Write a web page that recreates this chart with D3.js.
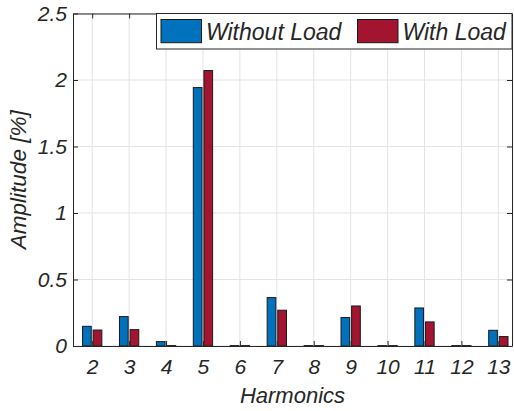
<!DOCTYPE html>
<html>
<head>
<meta charset="utf-8">
<script src="https://cdn.jsdelivr.net/npm/d3@7"></script>
<style>
  body { margin: 0; background: #fff; }
  text { font-family: "Liberation Sans", Arial, sans-serif; font-style: italic; fill: #262626; }
</style>
</head>
<body>
<div id="chart"></div>
<script>
// harmonic orders and amplitudes in %
const harmonics = [2, 3, 4, 5, 6, 7, 8, 9, 10, 11, 12, 13];
const withoutLoad = [0.148, 0.221, 0.033, 1.943, 0.003, 0.364, 0.003, 0.214, 0.003, 0.286, 0.003, 0.118];
const withLoad = [0.12, 0.123, 0.003, 2.071, 0.003, 0.269, 0.003, 0.301, 0.003, 0.181, 0.003, 0.071];
const seriesNames = ["Without Load", "With Load"];
const yTicks = [0, 0.5, 1, 1.5, 2, 2.5];

const width = 514, height = 411;
const margin = {top: 13.5, right: 2, bottom: 65, left: 73};
const colors = ["#0072BD", "#A2142F"];

const svg = d3.select("#chart").append("svg")
  .attr("width", width)
  .attr("height", height);

const x = d3.scaleLinear()
  .domain([1.48, 13.37])
  .range([margin.left, width - margin.right]);

const y = d3.scaleLinear()
  .domain([0, 2.5])
  .range([height - margin.bottom, margin.top]);

const plotW = width - margin.right - margin.left;
const plotH = height - margin.bottom - margin.top;

// grid lines
const grid = svg.append("g");
grid.selectAll("line.vx")
  .data(harmonics)
  .enter()
  .append("line")
  .attr("x1", d => x(d)).attr("x2", d => x(d))
  .attr("y1", margin.top).attr("y2", height - margin.bottom)
  .attr("stroke", "#e3e3e3").attr("stroke-width", 1);
grid.selectAll("line.hy")
  .data(yTicks)
  .enter()
  .append("line")
  .attr("x1", margin.left).attr("x2", width - margin.right)
  .attr("y1", d => y(d)).attr("y2", d => y(d))
  .attr("stroke", "#e3e3e3").attr("stroke-width", 1);

// bars
const barW = 8.7;
const offsets = [-5.3, 5.3];
[withoutLoad, withLoad].forEach((series, s) => {
  svg.append("g")
    .selectAll("rect")
    .data(series)
    .enter()
    .append("rect")
    .attr("x", (d, i) => x(harmonics[i]) + offsets[s] - barW / 2)
    .attr("y", d => y(d))
    .attr("width", barW)
    .attr("height", d => y(0) - y(d))
    .attr("fill", colors[s])
    .attr("stroke", "#1a1a1a")
    .attr("stroke-width", 1);
});

// axes
const axisColor = "#262626";
const xAxis = svg.append("g")
  .attr("transform", `translate(0,${height - margin.bottom})`)
  .call(d3.axisBottom(x).tickValues(harmonics).tickSizeInner(-5).tickSizeOuter(0).tickPadding(13));
const xTop = svg.append("g")
  .attr("transform", `translate(0,${margin.top})`)
  .call(d3.axisTop(x).tickValues(harmonics).tickSizeInner(-5).tickSizeOuter(0).tickFormat(""));
const yAxis = svg.append("g")
  .attr("transform", `translate(${margin.left},0)`)
  .call(d3.axisLeft(y).tickValues(yTicks).tickSizeInner(-5).tickSizeOuter(0).tickPadding(6)
    .tickFormat(d => d3.format("")(d)));
const yRight = svg.append("g")
  .attr("transform", `translate(${width - margin.right},0)`)
  .call(d3.axisRight(y).tickValues(yTicks).tickSizeInner(-5).tickSizeOuter(0).tickFormat(""));

[xAxis, xTop, yAxis, yRight].forEach(a => {
  a.selectAll("path").attr("stroke", axisColor).attr("stroke-width", 1);
  a.selectAll("line").attr("stroke", axisColor);
  a.selectAll("text")
    .style("font-family", "'Liberation Sans', Arial, sans-serif")
    .style("font-style", "italic")
    .style("font-size", "21px")
    .attr("fill", axisColor);
});

// axis labels
svg.append("text")
  .attr("x", margin.left + plotW / 2)
  .attr("y", 402.5)
  .attr("text-anchor", "middle")
  .style("font-size", "22px")
  .text("Harmonics");
svg.append("text")
  .attr("transform", `translate(26,${margin.top + plotH / 2}) rotate(-90)`)
  .attr("text-anchor", "middle")
  .style("font-size", "22.5px")
  .text("Amplitude [%]");

// legend
const legend = svg.append("g");
legend.append("rect")
  .attr("x", 156.5).attr("y", margin.top)
  .attr("width", width - margin.right - 156.5).attr("height", 35.5)
  .attr("fill", "#fff").attr("stroke", axisColor).attr("stroke-width", 1);
const legendX = [161, 357.5];
seriesNames.forEach((name, i) => {
  legend.append("rect")
    .attr("x", legendX[i]).attr("y", 19.5)
    .attr("width", 40.5).attr("height", 23.2)
    .attr("fill", colors[i]).attr("stroke", "#1a1a1a").attr("stroke-width", 1);
  legend.append("text")
    .attr("x", legendX[i] + 45).attr("y", 39.5)
    .style("font-size", "23px")
    .attr("fill", "#000")
    .text(name);
});
</script>
</body>
</html>
